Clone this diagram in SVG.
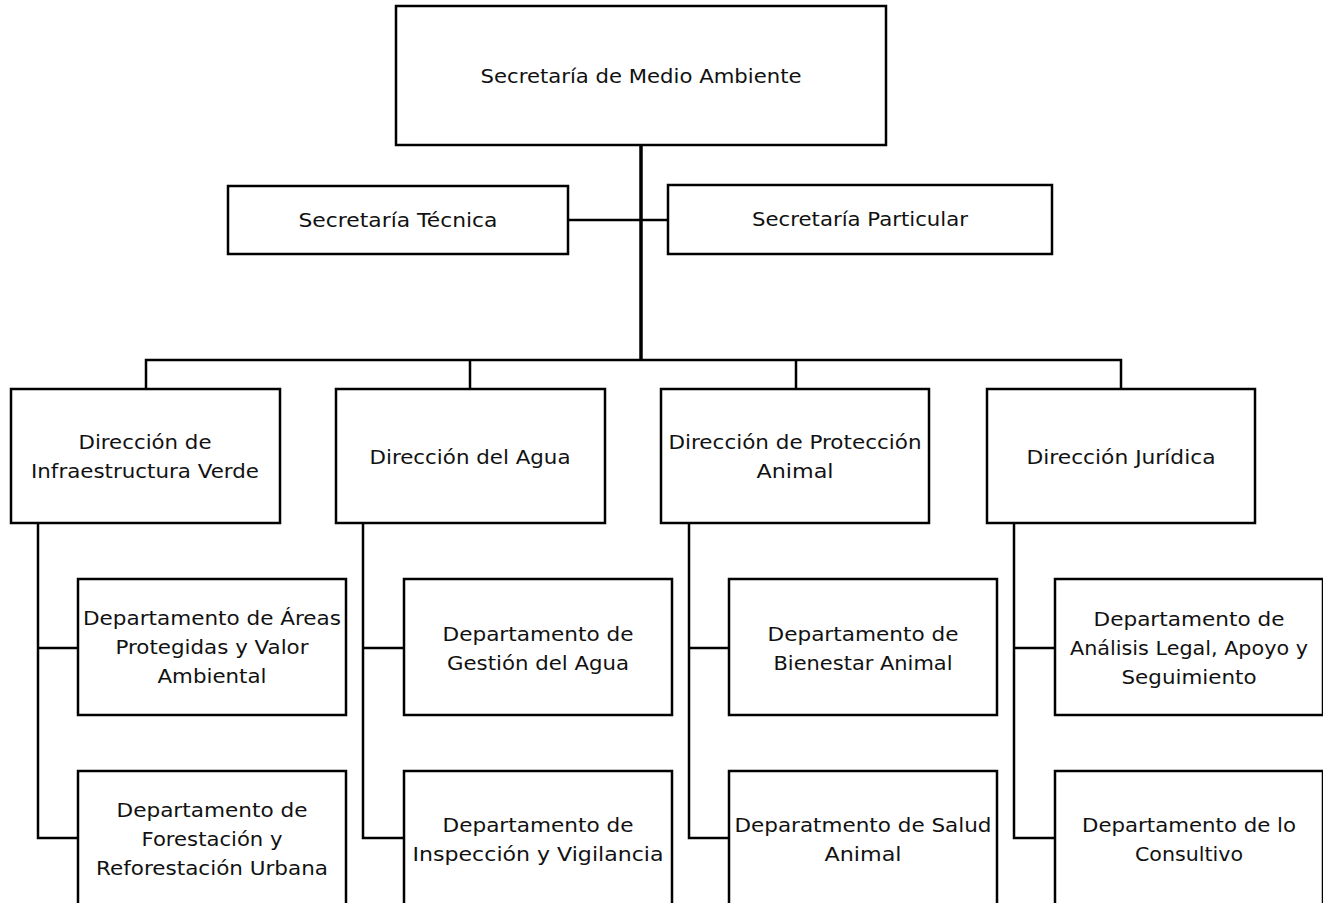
<svg xmlns="http://www.w3.org/2000/svg" width="1323" height="903" viewBox="0 0 1323 903">
<style>
.box{fill:#fff;stroke:#000;stroke-width:2.5}
.t{font-family:"DejaVu Sans","Liberation Sans",sans-serif;font-size:19px;fill:#111;text-anchor:middle;dominant-baseline:central}
.c{fill:none;stroke:#000;stroke-width:2.5}
.trunk{fill:none;stroke:#000;stroke-width:3.5}
</style>
<rect width="1323" height="903" fill="#fff"/>
<g id="connectors">
<path class="trunk" d="M641,145 V361"/>
<path class="c" d="M568,220 H668"/>
<path class="c" d="M146,389 V360 H1121 V389 M470,360 V389 M796,360 V389"/>
<path class="c" d="M38,523 V838 H78 M38,648 H78"/>
<path class="c" d="M363,523 V838 H404 M363,648 H404"/>
<path class="c" d="M689,523 V838 H729 M689,648 H729"/>
<path class="c" d="M1014,523 V838 H1055 M1014,648 H1055"/>
</g>
<g id="n-sma"><rect class="box" x="396" y="6" width="490" height="139"/><text class="t" x="641" y="76" textLength="321" lengthAdjust="spacingAndGlyphs">Secretaría de Medio Ambiente</text></g>
<g id="n-tecnica"><rect class="box" x="228" y="186" width="340" height="68"/><text class="t" x="398" y="220" textLength="199" lengthAdjust="spacingAndGlyphs">Secretaría Técnica</text></g>
<g id="n-particular"><rect class="box" x="668" y="185" width="384" height="69"/><text class="t" x="860" y="219" textLength="216" lengthAdjust="spacingAndGlyphs">Secretaría Particular</text></g>
<g id="n-d1"><rect class="box" x="11" y="389" width="269" height="134"/><text class="t" x="145" y="442" textLength="133" lengthAdjust="spacingAndGlyphs">Dirección de</text><text class="t" x="145" y="471" textLength="228" lengthAdjust="spacingAndGlyphs">Infraestructura Verde</text></g>
<g id="n-d2"><rect class="box" x="336" y="389" width="269" height="134"/><text class="t" x="470" y="457" textLength="201" lengthAdjust="spacingAndGlyphs">Dirección del Agua</text></g>
<g id="n-d3"><rect class="box" x="661" y="389" width="268" height="134"/><text class="t" x="795" y="442" textLength="253" lengthAdjust="spacingAndGlyphs">Dirección de Protección</text><text class="t" x="795" y="471" textLength="77" lengthAdjust="spacingAndGlyphs">Animal</text></g>
<g id="n-d4"><rect class="box" x="987" y="389" width="268" height="134"/><text class="t" x="1121" y="457" textLength="189" lengthAdjust="spacingAndGlyphs">Dirección Jurídica</text></g>
<g id="n-a1"><rect class="box" x="78" y="579" width="268" height="136"/><text class="t" x="212" y="618" textLength="258" lengthAdjust="spacingAndGlyphs">Departamento de Áreas</text><text class="t" x="212" y="647" textLength="193" lengthAdjust="spacingAndGlyphs">Protegidas y Valor</text><text class="t" x="212" y="676" textLength="109" lengthAdjust="spacingAndGlyphs">Ambiental</text></g>
<g id="n-a2"><rect class="box" x="78" y="771" width="268" height="137"/><text class="t" x="212" y="810" textLength="191" lengthAdjust="spacingAndGlyphs">Departamento de</text><text class="t" x="212" y="839" textLength="141" lengthAdjust="spacingAndGlyphs">Forestación y</text><text class="t" x="212" y="868" textLength="232" lengthAdjust="spacingAndGlyphs">Reforestación Urbana</text></g>
<g id="n-b1"><rect class="box" x="404" y="579" width="268" height="136"/><text class="t" x="538" y="634" textLength="191" lengthAdjust="spacingAndGlyphs">Departamento de</text><text class="t" x="538" y="663" textLength="182" lengthAdjust="spacingAndGlyphs">Gestión del Agua</text></g>
<g id="n-b2"><rect class="box" x="404" y="771" width="268" height="137"/><text class="t" x="538" y="825" textLength="191" lengthAdjust="spacingAndGlyphs">Departamento de</text><text class="t" x="538" y="854" textLength="251" lengthAdjust="spacingAndGlyphs">Inspección y Vigilancia</text></g>
<g id="n-c1"><rect class="box" x="729" y="579" width="268" height="136"/><text class="t" x="863" y="634" textLength="191" lengthAdjust="spacingAndGlyphs">Departamento de</text><text class="t" x="863" y="663" textLength="179" lengthAdjust="spacingAndGlyphs">Bienestar Animal</text></g>
<g id="n-c2"><rect class="box" x="729" y="771" width="268" height="137"/><text class="t" x="863" y="825" textLength="257" lengthAdjust="spacingAndGlyphs">Deparatmento de Salud</text><text class="t" x="863" y="854" textLength="77" lengthAdjust="spacingAndGlyphs">Animal</text></g>
<g id="n-e1"><rect class="box" x="1055" y="579" width="268" height="136"/><text class="t" x="1189" y="619" textLength="191" lengthAdjust="spacingAndGlyphs">Departamento de</text><text class="t" x="1189" y="648" textLength="238" lengthAdjust="spacingAndGlyphs">Análisis Legal, Apoyo y</text><text class="t" x="1189" y="677" textLength="135" lengthAdjust="spacingAndGlyphs">Seguimiento</text></g>
<g id="n-e2"><rect class="box" x="1055" y="771" width="268" height="137"/><text class="t" x="1189" y="825" textLength="214" lengthAdjust="spacingAndGlyphs">Departamento de lo</text><text class="t" x="1189" y="854" textLength="108" lengthAdjust="spacingAndGlyphs">Consultivo</text></g>
</svg>
